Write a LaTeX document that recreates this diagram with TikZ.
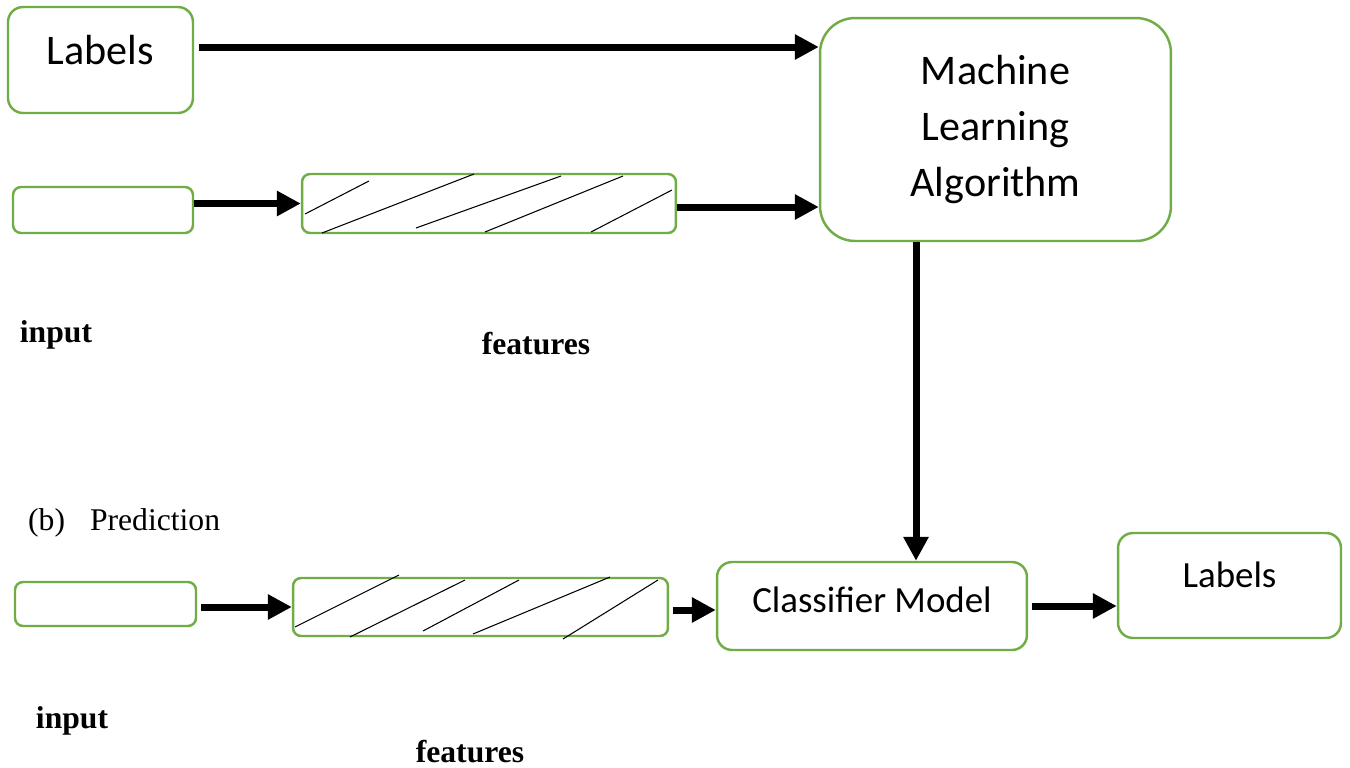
\documentclass[tikz,border=0pt]{standalone}
\usepackage{fontspec}
\setmainfont{Carlito}
\newfontfamily\timesfont{Liberation Serif}
\usetikzlibrary{arrows.meta, positioning}
\definecolor{boxgreen}{RGB}{112,173,71}

\begin{document}
\begin{tikzpicture}[
            x = 0.02cm, y = -0.02cm, % pixel grid, y going down
            > = {Triangle[length=0.48cm, width=0.48cm]}, % arrow head style
            arr/.style = {->, line width=0.14cm},
            hatch/.style = {black, line width=0.6pt},
            tag/.style = {font=\timesfont\bfseries\fontsize{18}{22}\selectfont}
        ]

        \tikzstyle{box}=[
            draw = boxgreen,
            line width = 1.4pt,
            fill = white,
            inner sep = 0pt,
            rounded corners = 0.16cm
        ]

        \useasboundingbox (0,0) rectangle (1350,768);

        % (a) training
        \node[box, minimum width=3.7cm, minimum height=2.12cm, rounded corners=0.3cm,
              font=\fontsize{24}{29}\selectfont, text height=0.6cm, text depth=0.44cm]
              (labelsA) at (100.5,60) {Labels};
        \node[box, minimum width=7.02cm, minimum height=4.46cm, rounded corners=0.7cm,
              align=center, font=\fontsize{24}{32}\selectfont]
              (mla) at (995.5,129.5) {Machine\\Learning\\Algorithm};
        \node[box, minimum width=3.6cm, minimum height=0.92cm] (inputA) at (103,210) {};
        \node[box, minimum width=7.48cm, minimum height=1.18cm] (featA) at (489,203.5) {};

        \foreach \a/\b/\c/\d in {305/214/369/181, 322/233/474/174, 416/228/561/176,
                                 485/232/623/176, 591/232/672/190}
            \draw[hatch] (\a,\b) -- (\c,\d);

        \draw[arr] (labelsA.east) ++(5,-13) coordinate (la) -- (la -| mla.west);
        \draw[arr] (featA.west -| inputA.east) -- (featA.west);
        \draw[arr] (featA.east) ++(0,3.5) coordinate (fa) -- (fa -| mla.west);

        \node[tag] (inA) at (56,335) {input};
        \node[tag] (ftA) at (536,344) {features};

        % (b) prediction
        \node[anchor=west, font=\timesfont\fontsize{18}{22}\selectfont] (pred) at (22,523)
              {(b)\hspace{0.5cm}Prediction};

        \node[box, minimum width=3.62cm, minimum height=0.88cm] (inputB) at (105.5,604) {};
        \node[box, minimum width=7.5cm, minimum height=1.16cm] (featB) at (480.5,607) {};
        \node[box, minimum width=6.2cm, minimum height=1.76cm, rounded corners=0.3cm,
              font=\fontsize{21}{25}\selectfont, text height=0.5cm, text depth=0.23cm]
              (clf) at (872,606) {Classifier Model};
        \node[box, minimum width=4.46cm, minimum height=2.1cm, rounded corners=0.3cm,
              font=\fontsize{21}{25}\selectfont, text height=0.55cm, text depth=0.49cm]
              (labelsB) at (1229.5,585.5) {Labels};

        \foreach \a/\b/\c/\d in {295/627/399/575, 350/637/465/580, 423/631/519/580,
                                 473/634/610/577, 563/639/658/580}
            \draw[hatch] (\a,\b) -- (\c,\d);

        \draw[arr] (mla.south) ++(-79.5,0) coordinate (v) -- (v |- clf.north);
        \draw[arr, shorten <=2pt] (featB.west -| inputB.east) -- (featB.west);
        \draw[arr, shorten <=2pt] (featB.east) ++(0,3) coordinate (fb) -- (fb -| clf.west);
        \draw[arr, shorten <=2pt] (clf.east) -- (clf.east -| labelsB.west);

        \node[tag] (inB) at (72,721) {input};
        \node[tag] (ftB) at (470,752) {features};
    \end{tikzpicture}
\end{document}
